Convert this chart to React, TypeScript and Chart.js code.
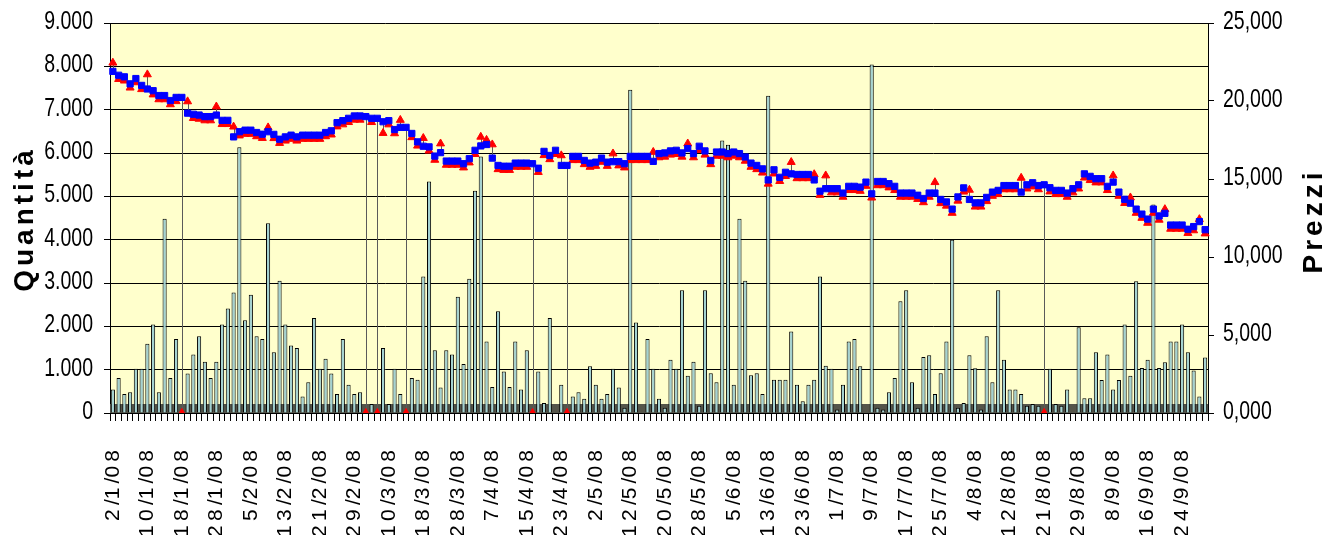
import React, { useEffect, useRef } from "react";
import { Chart, registerables } from "chart.js";

Chart.register(...registerables);

// Trading days of 2008 (Borsa Italiana), one array per month
const janDays = [2, 3, 4, 7, 8, 9, 10, 11, 14, 15, 16, 17, 18, 21, 22, 23, 24, 25, 28, 29, 30, 31];
const febDays = [1, 4, 5, 6, 7, 8, 11, 12, 13, 14, 15, 18, 19, 20, 21, 22, 25, 26, 27, 28, 29];
const marDays = [3, 4, 5, 6, 7, 10, 11, 12, 13, 14, 17, 18, 19, 20, 25, 26, 27, 28, 31];
const aprDays = [1, 2, 3, 4, 7, 8, 9, 10, 11, 14, 15, 16, 17, 18, 21, 22, 23, 24, 25, 28, 29, 30];
const mayDays = [2, 5, 6, 7, 8, 9, 12, 13, 14, 15, 16, 19, 20, 21, 22, 23, 26, 27, 28, 29, 30];
const junDays = [2, 3, 4, 5, 6, 9, 10, 11, 12, 13, 16, 17, 18, 19, 20, 23, 24, 25, 26, 27, 30];
const julDays = [1, 2, 3, 4, 7, 8, 9, 10, 11, 14, 15, 16, 17, 18, 21, 22, 23, 24, 25, 28, 29, 30, 31];
const augDays = [1, 4, 5, 6, 7, 8, 11, 12, 13, 14, 18, 19, 20, 21, 22, 25, 26, 27, 28, 29];
const sepDays = [1, 2, 3, 4, 5, 8, 9, 10, 11, 12, 15, 16, 17, 18, 19, 22, 23, 24, 25, 26, 29, 30];
const monthDays = [janDays, febDays, marDays, aprDays, mayDays, junDays, julDays, augDays, sepDays];

// Quantità (left axis)
const quantities = [
  540, 810, 440, 480, 1020, 1020, 1600, 2040, 480, 4480, 810, 1710, 0, 910, 1350, 1770, 1180, 810, 1180, 2040,
  2410, 2780, 6130, 2140, 2730, 1770, 1710, 4380, 1400, 3050, 2040, 1560, 1500, 380, 710, 2190, 1020, 1250, 910, 440,
  1710, 650, 440, 480, 0, 210, 0, 1500, 210, 1020, 440, 0, 810, 770, 3150, 5340, 1450, 590, 1450, 1350,
  2680, 1130, 3100, 5130, 5920, 1650, 600, 2350, 960, 600, 1650, 540, 1450, 0, 960, 230, 2190, 0, 650, 0,
  380, 480, 330, 1080, 650, 330, 440, 1020, 590, 120, 7460, 2090, 0, 1710, 1020, 330, 120, 1230, 1020, 2830,
  860, 1180, 170, 2830, 920, 710, 6290, 6190, 650, 4480, 3050, 870, 920, 440, 7320, 770, 770, 770, 1880, 650,
  270, 650, 770, 3150, 1090, 1020, 80, 650, 1650, 1710, 1080, 0, 8040, 120, 80, 480, 810, 2580, 2830, 710,
  120, 1290, 1330, 440, 920, 1650, 4000, 120, 230, 1330, 1030, 80, 1770, 710, 2830, 1230, 540, 540, 440, 170,
  210, 170, 0, 1020, 210, 170, 540, 0, 1980, 340, 340, 1400, 760, 1350, 540, 760, 2040, 860, 3040, 1040,
  1230, 4810, 1040, 1170, 1650, 1650, 2040, 1400, 980, 380, 1280,
];

// Prezzi (right axis) – blue squares
const priceBlue = [
  21.9, 21.65, 21.55, 21.1, 21.44, 21.0, 20.77, 20.66, 20.35, 20.35, 20.03, 20.23, 20.23, 19.22, 19.15, 19.1, 19.0, 19.0, 19.1, 18.76,
  18.76, 17.7, 18.03, 18.13, 18.13, 17.98, 17.87, 18.03, 17.86, 17.55, 17.7, 17.81, 17.7, 17.81, 17.81, 17.81, 17.81, 17.98, 18.09, 18.61,
  18.74, 18.89, 19.04, 19.04, 19.0, 18.89, 18.89, 18.67, 18.74, 18.17, 18.31, 18.31, 17.92, 17.38, 17.1, 17.06, 16.47, 16.69, 16.15, 16.15,
  16.15, 15.98, 16.3, 16.84, 17.12, 17.21, 16.34, 15.87, 15.82, 15.82, 16.02, 16.02, 16.02, 15.98, 15.69, 16.77, 16.51, 16.84, 15.87, 15.87,
  16.45, 16.45, 16.19, 16.02, 16.08, 16.34, 16.08, 16.11, 16.11, 15.98, 16.45, 16.45, 16.45, 16.45, 16.13, 16.63, 16.67, 16.8, 16.84, 16.67,
  16.95, 16.63, 17.1, 16.8, 16.19, 16.73, 16.73, 16.63, 16.73, 16.63, 16.41, 16.02, 15.87, 15.65, 14.94, 15.59, 15.11, 15.43, 15.33, 15.29,
  15.29, 15.29, 14.94, 14.22, 14.38, 14.38, 14.38, 14.1, 14.53, 14.53, 14.48, 14.8, 14.05, 14.84, 14.84, 14.7, 14.53, 14.1, 14.1, 14.1,
  13.96, 13.75, 14.1, 14.1, 13.69, 13.53, 13.07, 13.85, 14.43, 13.69, 13.47, 13.47, 13.82, 14.16, 14.27, 14.58, 14.58, 14.58, 14.16, 14.63,
  14.76, 14.58, 14.63, 14.44, 14.27, 14.27, 14.1, 14.38, 14.63, 15.33, 15.17, 15.02, 15.02, 14.53, 14.8, 14.16, 13.7, 13.45, 13.07, 12.75,
  12.43, 13.07, 12.63, 12.8, 12.05, 12.05, 12.05, 11.78, 11.95, 12.27, 11.75,
];

// Prezzi (right axis) – red triangles
const priceRed = [
  22.45, 21.4, 21.3, 20.85, 21.19, 20.75, 21.7, 20.41, 20.1, 20.1, 19.78, 19.98, 0, 19.97, 18.9, 18.85, 18.75, 18.75, 19.64, 18.51,
  18.51, 18.35, 17.78, 17.88, 17.88, 17.73, 17.62, 18.3, 17.61, 17.3, 17.45, 17.56, 17.45, 17.56, 17.56, 17.56, 17.56, 17.73, 17.84, 18.36,
  18.49, 18.64, 18.79, 18.79, 0, 18.64, 0, 17.94, 18.49, 17.92, 18.78, 0, 17.67, 17.13, 17.62, 16.81, 16.22, 17.27, 15.9, 15.9,
  15.9, 15.73, 16.05, 16.59, 17.7, 17.5, 17.21, 15.62, 15.57, 15.57, 15.77, 15.77, 15.77, 0, 15.44, 16.52, 16.26, 16.59, 16.51, 0,
  16.2, 16.2, 15.94, 15.77, 15.83, 16.09, 15.83, 16.63, 15.86, 15.73, 16.2, 16.2, 16.2, 16.2, 16.73, 16.38, 16.42, 16.55, 16.59, 16.42,
  17.27, 16.38, 16.85, 16.55, 15.94, 16.48, 16.48, 16.38, 16.48, 16.38, 16.16, 15.77, 15.62, 15.4, 14.69, 15.34, 14.86, 15.18, 16.08, 15.04,
  15.04, 15.04, 15.3, 13.97, 15.22, 14.13, 14.13, 13.85, 14.28, 14.28, 14.23, 14.55, 13.8, 14.59, 14.59, 14.45, 14.28, 13.85, 13.85, 13.85,
  13.71, 13.5, 13.85, 14.79, 13.44, 13.28, 12.82, 13.6, 14.18, 14.3, 13.22, 13.22, 13.57, 13.91, 14.02, 14.33, 14.33, 14.33, 15.07, 14.38,
  14.51, 14.33, 0, 14.19, 14.02, 14.02, 13.85, 14.13, 14.38, 15.08, 14.92, 14.77, 14.77, 14.28, 15.22, 13.91, 13.45, 13.81, 12.82, 12.5,
  12.18, 12.82, 12.38, 13.06, 11.8, 11.8, 11.8, 11.53, 11.7, 12.42, 11.5,
];

const leftTicks = [0, 1000, 2000, 3000, 4000, 5000, 6000, 7000, 8000, 9000];
const rightTicks = [0, 5, 10, 15, 20, 25];

const labels: string[] = [];
monthDays.forEach((days, m) => days.forEach((d) => labels.push(`${d}/${m + 1}/08`)));

const THIN = "\u2009";
function spaced(label: string): string {
  let out = "";
  for (let k = 0; k < label.length; k++) {
    const c = label[k];
    out += c;
    if (k < label.length - 1 && c !== "/") out += THIN;
  }
  return out;
}

function fmtLeft(v: number): string {
  if (v === 0) return "0";
  const th = Math.floor(v / 1000);
  const rest = String(v % 1000).padStart(3, "0");
  return `${th}.${rest}`;
}
function fmtRight(v: number): string {
  return v.toFixed(3).replace(".", ",");
}

const SANS = "'Liberation Sans', Arial, sans-serif";
const NARROW_SCALE = 0.78;

function drawNarrow(ctx: CanvasRenderingContext2D, text: string, x: number, y: number, align: "left" | "right") {
  ctx.save();
  ctx.translate(x, y);
  ctx.scale(NARROW_SCALE, 1);
  ctx.textAlign = align;
  ctx.textBaseline = "middle";
  ctx.fillText(text, 0, 0);
  ctx.restore();
}

const bgPlugin = {
  id: "bg",
  beforeDraw(chart: any) {
    const { ctx, chartArea } = chart;
    ctx.save();
    ctx.fillStyle = "#ffffff";
    ctx.fillRect(0, 0, chart.width, chart.height);
    ctx.fillStyle = "#FFFFCC";
    ctx.fillRect(chartArea.left, chartArea.top, chartArea.right - chartArea.left, chartArea.bottom - chartArea.top);
    ctx.restore();
  },
  beforeDatasetsDraw(chart: any) {
    const { ctx, chartArea } = chart;
    ctx.save();
    ctx.fillStyle = "#55554a";
    ctx.fillRect(chartArea.left, chartArea.bottom - 9, chartArea.right - chartArea.left, 9);
    ctx.restore();
  },
  afterDatasetDraw(chart: any, args: any) {
    if (args.meta.type !== "bar") return;
    const { ctx } = chart;
    const xs = chart.scales.x;
    const ys = chart.scales.y1;
    ctx.save();
    ctx.strokeStyle = "#5a5a5a";
    ctx.lineWidth = 1;
    for (let i = 0; i < labels.length; i++) {
      const a = ys.getPixelForValue(priceRed[i]);
      const b = ys.getPixelForValue(priceBlue[i]);
      if (Math.abs(a - b) < 1) continue;
      const x = Math.round(xs.getPixelForValue(i)) + 0.5;
      ctx.beginPath();
      ctx.moveTo(x, Math.min(a, b));
      ctx.lineTo(x, Math.max(a, b));
      ctx.stroke();
    }
    ctx.restore();
  },
  afterDraw(chart: any) {
    const { ctx, chartArea } = chart;
    const yL = chart.scales.y;
    const yR = chart.scales.y1;
    // axis tick labels (narrow face)
    ctx.save();
    ctx.fillStyle = "#000";
    ctx.font = `25px ${SANS}`;
    leftTicks.forEach((v) => drawNarrow(ctx, fmtLeft(v), chartArea.left - 17, yL.getPixelForValue(v) - 1, "right"));
    rightTicks.forEach((v) => drawNarrow(ctx, fmtRight(v), chartArea.right + 15, yR.getPixelForValue(v) - 1, "left"));
    ctx.restore();

    const cy = (chartArea.top + chartArea.bottom) / 2;
    ctx.save();
    ctx.fillStyle = "#000";
    ctx.font = `bold 28px ${SANS}`;
    (ctx as any).letterSpacing = "4px";
    ctx.textAlign = "center";
    ctx.textBaseline = "middle";
    ctx.translate(25, cy + 1);
    ctx.rotate(-Math.PI / 2);
    ctx.fillText("Quantità", 0, 0);
    ctx.restore();
    ctx.save();
    ctx.fillStyle = "#000";
    ctx.font = `bold 28px ${SANS}`;
    (ctx as any).letterSpacing = "4px";
    ctx.textAlign = "center";
    ctx.textBaseline = "middle";
    ctx.translate(1314, cy + 3);
    ctx.rotate(-Math.PI / 2);
    ctx.fillText("Prezzi", 0, 0);
    ctx.restore();
  },
};

export default function App() {
  const ref = useRef<HTMLCanvasElement | null>(null);
  useEffect(() => {
    document.body.style.margin = "0";
    const canvas = ref.current;
    if (!canvas) return;
    const chart = new Chart(canvas, {
      type: "bar",
      data: {
        labels,
        datasets: [
          {
            type: "bar",
            label: "Quantità",
            data: quantities,
            yAxisID: "y",
            backgroundColor: "#A4D2D2",
            borderColor: "#000000",
            borderWidth: 1,
            barPercentage: 0.72,
            categoryPercentage: 1,
            order: 3,
          } as any,
          {
            type: "line",
            label: "Prezzo min",
            data: priceRed,
            yAxisID: "y1",
            showLine: false,
            pointStyle: "triangle",
            pointRadius: 4.6,
            pointBorderWidth: 1,
            pointBackgroundColor: "#FF0000",
            pointBorderColor: "#FF0000",
            order: 2,
          } as any,
          {
            type: "line",
            label: "Prezzo",
            data: priceBlue,
            yAxisID: "y1",
            showLine: false,
            pointStyle: "rect",
            pointRadius: 4.4,
            pointBorderWidth: 1,
            pointBackgroundColor: "#0000FF",
            pointBorderColor: "#0000FF",
            order: 1,
          } as any,
        ],
      },
      options: {
        responsive: false,
        animation: false,
        layout: { padding: { top: 23, left: 0, right: 0, bottom: 0 } },
        plugins: { legend: { display: false }, tooltip: { enabled: false } },
        scales: {
          x: {
            type: "category",
            offset: true,
            grid: { display: true, drawOnChartArea: false, drawTicks: true, tickLength: 8, color: "#000", offset: true },
            border: { display: true, color: "#000" },
            ticks: {
              autoSkip: false,
              maxRotation: 90,
              minRotation: 90,
              padding: 29,
              color: "#000",
              font: { family: SANS, size: 21 },
              callback: (_v: any, i: number) => (i % 6 === 0 ? spaced(labels[i]) : ""),
            },
            afterFit: (s: any) => {
              s.height = 122;
            },
          },
          y: {
            position: "left",
            min: 0,
            max: 9000,
            afterBuildTicks: (s: any) => {
              s.ticks = leftTicks.map((v) => ({ value: v }));
            },
            ticks: { display: false },
            grid: { color: "#000", tickLength: 6, lineWidth: 1 },
            border: { display: true, color: "#000" },
            afterFit: (s: any) => {
              s.width = 110;
            },
          },
          y1: {
            position: "right",
            min: 0,
            max: 25,
            afterBuildTicks: (s: any) => {
              s.ticks = rightTicks.map((v) => ({ value: v }));
            },
            ticks: { display: false },
            grid: { drawOnChartArea: false, color: "#000", tickLength: 6 },
            border: { display: true, color: "#000" },
            afterFit: (s: any) => {
              s.width = 132;
            },
          },
        },
      },
      plugins: [bgPlugin],
    });
    return () => chart.destroy();
  }, []);
  return <canvas ref={ref} width={1340} height={535} style={{ display: "block" }} />;
}
